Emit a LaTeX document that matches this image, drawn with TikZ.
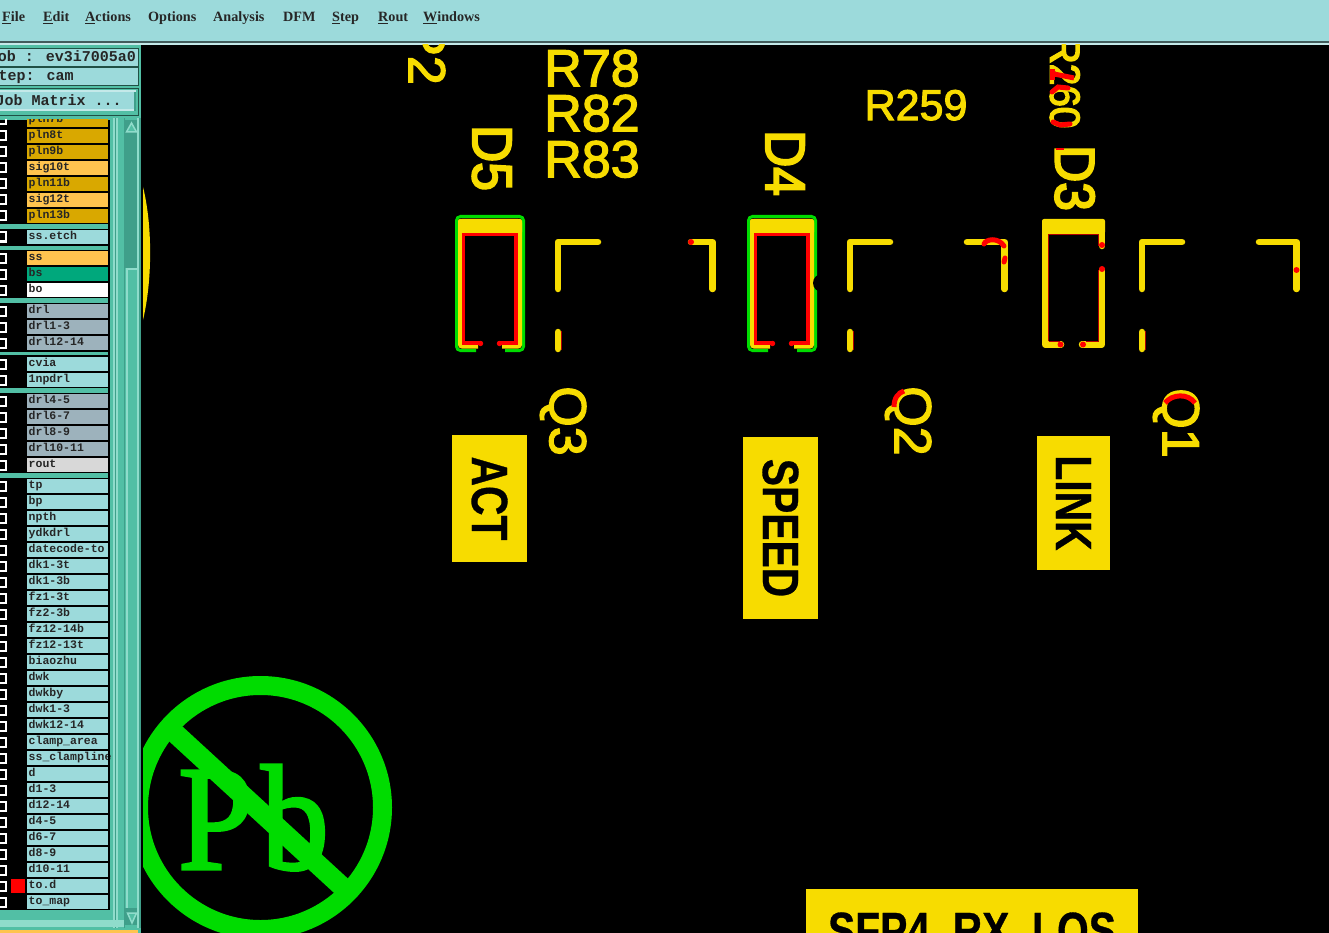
\documentclass[tikz,border=0pt]{standalone}
\usepackage{fontspec}
\newfontfamily\padfont[FakeBold=2.5]{Liberation Sans}
\newfontfamily\padnarrow[FakeStretch=.92,FakeBold=3.5]{Liberation Sans}
\newfontfamily\boxfont[FakeStretch=.8,FakeBold=.6]{Liberation Sans}
\newfontfamily\panelfont{Liberation Mono}
\newfontfamily\menufont{Liberation Serif}
\newfontfamily\markfont[FakeStretch=.9,FakeBold=2]{Liberation Serif}
\definecolor{menucol}{HTML}{9CDADB}
\definecolor{panelcol}{HTML}{52BFA5}
\definecolor{paneldark}{HTML}{3F9F8A}
\definecolor{panellight}{HTML}{8FDCCB}
\definecolor{goldcol}{HTML}{D9A800}
\definecolor{orangecol}{HTML}{FFC44F}
\definecolor{bscol}{HTML}{00A87C}
\definecolor{drlcol}{HTML}{9DB2BC}
\definecolor{routcol}{HTML}{D8D8D8}
\definecolor{padyellow}{HTML}{F7DC00}
\definecolor{padgreen}{HTML}{00DC00}
\tikzset{
  menuitem/.style={anchor=base west,inner sep=0pt,font=\menufont\bfseries\fontsize{14.2}{14.2}\selectfont,text=black!85},
  headtext/.style={anchor=base west,inner sep=0pt,font=\panelfont\bfseries\fontsize{15}{15}\selectfont,text=black!85},
  layerrow/.style={anchor=west,inner xsep=1.5pt,inner ysep=0pt,text width=78pt,minimum height=14pt,text height=7.5pt,text depth=3pt,font=\panelfont\bfseries\fontsize{11.5}{11.5}\selectfont,text=black!85},
  padlabel/.style={inner sep=0pt,text depth=0pt,text=padyellow,font=\padfont\fontsize{#1}{#1}\selectfont},
  padtall/.style={inner sep=0pt,text depth=0pt,text=padyellow,font=\padnarrow\fontsize{#1}{#1}\selectfont},
  padbox/.style={fill=padyellow,inner sep=0pt,rotate=-90,text=black,font=\boxfont\bfseries\fontsize{51}{51}\selectfont},
  yline/.style={padyellow,line width=6.5pt,line cap=round,line join=round},
  rline/.style={red,line width=3.3pt},
  rbit/.style={red,line width=5pt,line cap=round}
}
\begin{document}
\begin{tikzpicture}[x=1pt,y=-1pt]
\useasboundingbox (0,0) rectangle (1329,933);
\clip (0,0) rectangle (1329,933);
%%Background
\fill[black] (0,0) rectangle (1329,933);
\fill[menucol] (0,0) rectangle (1329,41);
\fill[black!30!menucol!60!black] (0,41) rectangle (1329,43);
\fill[menucol!60!white] (0,43) rectangle (1329,45);
\fill[panelcol] (0,45) rectangle (141,933);
%%Menu
\node[menuitem] (mfile) at (2,21.5) {\underline{F}ile};
\node[menuitem] (medit) at (43,21.5) {\underline{E}dit};
\node[menuitem] (mactions) at (85,21.5) {\underline{A}ctions};
\node[menuitem] (moptions) at (148,21.5) {Options};
\node[menuitem] (manalysis) at (213,21.5) {Analysis};
\node[menuitem] (mdfm) at (283,21.5) {DFM};
\node[menuitem] (mstep) at (332,21.5) {\underline{S}tep};
\node[menuitem] (mrout) at (378,21.5) {\underline{R}out};
\node[menuitem] (mwindows) at (423,21.5) {\underline{W}indows};
%%Job boxes
\draw[menucol,fill=menucol] (-3,49) rectangle (137,65);
\draw[paneldark!50!black] (-3,48) rectangle (138,66);
\draw[menucol,fill=menucol] (-3,68) rectangle (137,84);
\draw[paneldark!50!black] (-3,67) rectangle (138,85);
\draw[paneldark!50!black] (-3,88.5) rectangle (138,115);
\fill[menucol!60!white] (-3,90) rectangle (136,111);
\fill[menucol] (-3,92) rectangle (134,109);
\fill[paneldark] (134,92) rectangle (136,111);
\node[headtext,anchor=base east] (jobname) at (136,62) {Job : ev3i7005a0};
\node[headtext] (stepname) at (-10.5,81) {Step: cam};
\node[headtext] (jobmatrix) at (-4.5,106) {Job Matrix ...};
%%Layer list
\begin{scope}
\clip (0,120) rectangle (110,910);
\fill[black] (0,120) rectangle (110,224);
\fill[black] (0,229) rectangle (110,246);
\fill[black] (0,250) rectangle (110,298);
\fill[black] (0,303) rectangle (110,352);
\fill[black] (0,355) rectangle (110,388);
\fill[black] (0,393) rectangle (110,473);
\fill[black] (0,478) rectangle (110,910);
\foreach \ypos/\lname/\lcol in {120/pln7b/goldcol,136/pln8t/goldcol,152/pln9b/goldcol,168/sig10t/orangecol,184/pln11b/goldcol,200/sig12t/orangecol,216/pln13b/goldcol,237/ss.etch/menucol,258/ss/orangecol,274/bs/bscol,290/bo/white,311/drl/drlcol,327/drl1-3/drlcol,343/drl12-14/drlcol,364/cvia/menucol,380/1npdrl/menucol,401/drl4-5/drlcol,417/drl6-7/drlcol,433/drl8-9/drlcol,449/drl10-11/drlcol,465/rout/routcol,486/tp/menucol,502/bp/menucol,518/npth/menucol,534/ydkdrl/menucol,550/datecode-to/menucol,566/dk1-3t/menucol,582/dk1-3b/menucol,598/fz1-3t/menucol,614/fz2-3b/menucol,630/fz12-14b/menucol,646/fz12-13t/menucol,662/biaozhu/menucol,678/dwk/menucol,694/dwkby/menucol,710/dwk1-3/menucol,726/dwk12-14/menucol,742/clamp\_area/menucol,758/ss\_clampline/menucol,774/d/menucol,790/d1-3/menucol,806/d12-14/menucol,822/d4-5/menucol,838/d6-7/menucol,854/d8-9/menucol,870/d10-11/menucol,886/to.d/menucol,902/to\_map/menucol}{
  \node[layerrow,fill=\lcol] (layer\ypos) at (27,\ypos) {\lname};
  \draw[white,line width=2pt] (-5,\ypos-4.5) rectangle (6,\ypos+4.5);
}
\fill[black] (108,120) rectangle (110,910);
\end{scope}
\fill[red] (11,879) rectangle (25,893);
%%Scroll strips
\foreach \xa/\xb/\scol in {113/115/panellight,115/116/paneldark,116/118/panellight,124/125/paneldark,137/139/panellight,139/141/paneldark}{
  \fill[\scol] (\xa,118) rectangle (\xb,928);
}
\fill[paneldark] (125,120) rectangle (137,268);
\fill[panelcol] (125,268) rectangle (137,908);
\fill[panellight] (126,268) rectangle (137,270);
\fill[panellight] (126,268) rectangle (128,908);
\fill[paneldark] (125,908) rectangle (137,925);
\draw[panellight,fill=panelcol,line width=1.5pt] (131.5,123) -- (126.5,132) -- (136.5,132) -- cycle;
\draw[panellight,fill=panelcol,line width=1.5pt] (132,923) -- (127.5,913) -- (136.5,913) -- cycle;
\fill[panellight] (0,920) rectangle (124,927);
\fill[orangecol] (0,930) rectangle (138,933);
%%Canvas
\begin{scope}
\clip (141,45) rectangle (1329,933);
\fill[padyellow] (143,187) .. controls (152.5,225) and (152.5,280) .. (143,320) -- cycle;
%%Top labels
\node[padlabel=52] (r78) at (592,68) {R78};
\node[padlabel=52] (r82) at (592,113) {R82};
\node[padlabel=52] (r83) at (592,159) {R83};
\node[padlabel=43] (r259) at (916,105) {R259};
\node[padlabel=52,rotate=-90,anchor=east] (p2) at (427,85) {P2};
\node[padtall=42,rotate=-90,anchor=east] (r260) at (1065,128.5) {R260};
\node[padtall=56,rotate=-90] (d5) at (492,158) {D5};
\node[padtall=56,rotate=-90] (d4) at (785,163) {D4};
\node[padtall=56,rotate=-90] (d3) at (1075,178) {D3};
\node[padlabel=52,rotate=-90] (q3) at (568,421) {Q3};
\node[padlabel=52,rotate=-90] (q2) at (913,421) {Q2};
\node[padlabel=52,rotate=-90] (q1) at (1181,423) {Q1};
%%Red on labels
\draw[rbit,line cap=butt] (1052,69) -- (1052,80);
\draw[rbit,line cap=butt] (1054,74) -- (1074,78);
\draw[rbit] (1052,92) -- (1058,87) -- (1068,88);
\draw[rbit] (1053,122) -- (1060,125) -- (1070,124);
\draw[red,line width=2pt] (1056,149) -- (1064,149);
\draw[rbit,line cap=butt] (894,407) .. controls (894,398) and (898,393) .. (904,391);
\draw[rbit,line cap=butt] (1165,403) .. controls (1172,394) and (1188,393) .. (1195,403);
%%Pads D5 and D4
\foreach \dx in {0,292}{
  \begin{scope}[xshift=\dx pt]
  \draw[padgreen,line width=3pt,rounded corners=4pt] (476,350.5) -- (456.5,350.5) -- (456.5,216.5) -- (523.5,216.5) -- (523.5,350.5) -- (505,350.5);
  \draw[padyellow,line width=4pt,rounded corners=2pt] (478,346.5) -- (460,346.5) -- (460,221) -- (520,221) -- (520,346.5) -- (502,346.5);
  \fill[padyellow,rounded corners=2pt] (458,219) rectangle (522,234);
  \draw[rline,line cap=round] (481,343) -- (463.6,343) -- (463.6,234.3) -- (516,234.3) -- (516,343) -- (499,343);
  \fill[red] (480.5,343.5) circle (2.7) (499.5,343.5) circle (2.7);
  \end{scope}
}
\fill[black] (822,283) circle (9);
%%Pad D3
\draw[yline] (1061,344.5) -- (1045,344.5) -- (1045,225);
\draw[yline] (1102,225) -- (1102,246);
\draw[yline] (1102,270) -- (1102,344.5) -- (1082,344.5);
\fill[padyellow,rounded corners=2pt] (1042,219) rectangle (1105,234);
\draw[red!70!black,line width=1pt] (1048.5,341) -- (1048.5,234.5) -- (1098.5,234.5) -- (1098.5,246);
\draw[red!70!black,line width=1pt] (1098.5,270) -- (1098.5,341);
\draw[red!70!black,line width=1pt] (1048.5,341) -- (1060,341);
\draw[red!70!black,line width=1pt] (1086,341) -- (1098.5,341);
\fill[red] (1102,245) circle (3) (1102,269) circle (3) (1060.5,344.5) circle (3) (1083,344.5) circle (3);
%%Brackets
\foreach \dx/\armx in {0/691,292/967,584/1259}{
  \draw[yline] (\dx+558,289) -- (\dx+558,242) -- (\dx+598,242);
  \draw[yline] (\armx,242) -- (\dx+712.5,242) -- (\dx+712.5,289);
  \draw[yline] (\dx+558,332) -- (\dx+558,349);
  \draw[red!70!black,line width=1pt] (\dx+561,331) -- (\dx+561,350);
}
\fill[red] (691,242) circle (3) (1296.5,270) circle (3);
\draw[rbit] (984,244) .. controls (986,239) and (998,237) .. (1004,246);
\draw[rbit] (1005,258) -- (1004,262);
%%Silk boxes
\node[padbox,minimum width=127pt,minimum height=75pt] (act) at (489.5,498.5) {ACT};
\node[padbox,minimum width=182pt,minimum height=75pt] (speed) at (780.5,528) {SPEED};
\node[padbox,minimum width=134pt,minimum height=73pt] (link) at (1073.5,503) {LINK};
\fill[padyellow] (806,889) rectangle (1138,933);
\node[inner sep=0pt,text=black,font=\boxfont\bfseries\fontsize{51}{51}\selectfont,anchor=base] (sfp) at (972,948) {SFP4\_RX\_LOS};
%%Lead free mark
\node[anchor=base west,inner sep=0pt,text=padgreen,font=\markfont\fontsize{150}{150}\selectfont] (pb) at (178,869) {P\kern8pt b};
\draw[padgreen,line width=19pt] (260.5,807.5) circle (122);
\draw[padgreen,line width=20pt] (165,724) -- (350,894);
\fill[black] (141,660) rectangle (143,933);
\end{scope}
\end{tikzpicture}
\end{document}
